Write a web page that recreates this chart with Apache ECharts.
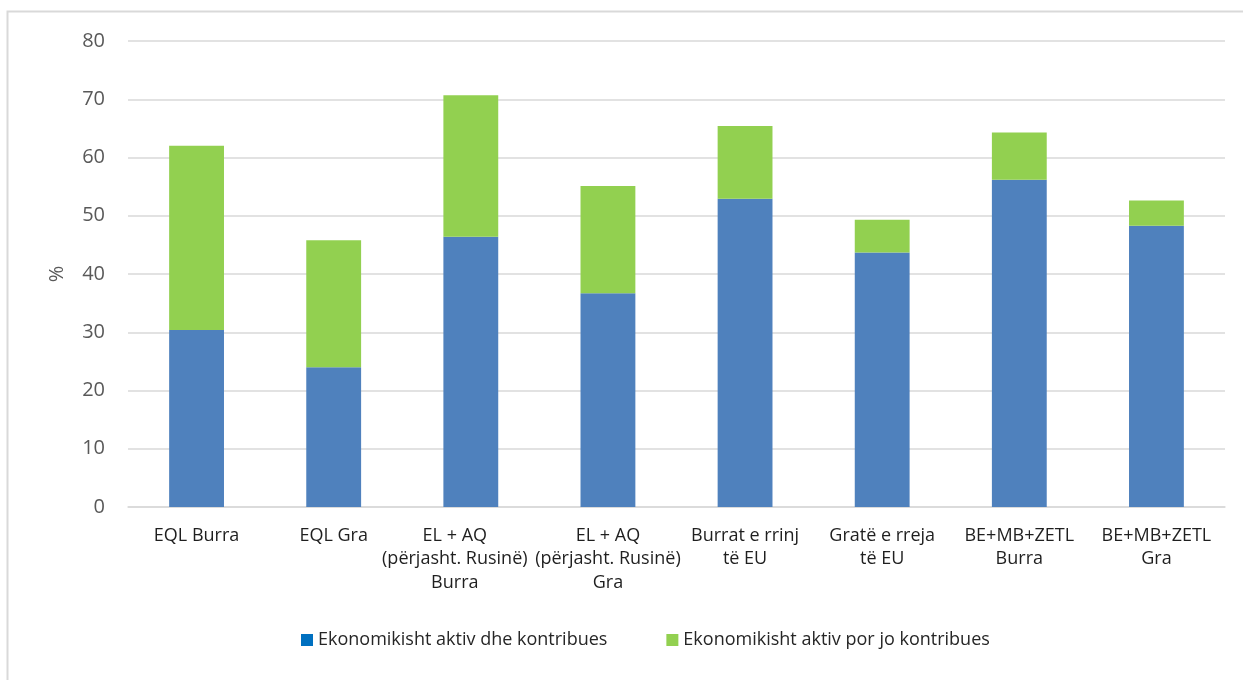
<!DOCTYPE html>
<html>
<head>
<meta charset="utf-8">
<script src="https://cdn.jsdelivr.net/npm/echarts@6/dist/echarts.min.js"></script>
<style>
html,body{margin:0;padding:0;background:#fff;}
#chart{width:1243px;height:680px;}
</style>
</head>
<body>
<div id="chart"></div>
<script>
const categories = [
  "EQL Burra",
  "EQL Gra",
  "EL + AQ\n(përjasht. Rusinë)\nBurra",
  "EL + AQ\n(përjasht. Rusinë)\nGra",
  "Burrat e rrinj\ntë EU",
  "Gratë e rreja\ntë EU",
  "BE+MB+ZETL\nBurra",
  "BE+MB+ZETL\nGra"
];
const seriesNames = ["Ekonomikisht aktiv dhe kontribues", "Ekonomikisht aktiv por jo kontribues"];
const contributing = [30.4, 24.0, 46.4, 36.7, 52.9, 43.7, 56.2, 48.3];
const nonContributing = [31.6, 21.8, 24.3, 18.4, 12.5, 5.6, 8.1, 4.3];
const yTicks = { min: 0, max: 80, interval: 10 };

const font = "'Open Sans', 'Noto Sans', sans-serif";
const categoryData = categories.map((c, i) => i === 2
  ? { value: c, textStyle: { padding: [0, 32, 0, 0] } }
  : c);

const chart = echarts.init(document.getElementById('chart'));
chart.setOption({
  animation: false,
  textStyle: { fontFamily: font },
  graphic: [{
    type: 'rect',
    z: -10,
    shape: { x: 7.5, y: 11.5, width: 1400, height: 900 },
    style: { fill: 'none', stroke: '#D9D9D9', lineWidth: 2 }
  }],
  grid: { left: 128, right: 18, top: 41, bottom: 173, containLabel: false },
  legend: {
    top: 626,
    left: 296,
    itemWidth: 12,
    itemHeight: 12,
    itemGap: 59,
    icon: 'rect',
    textStyle: { fontFamily: font, fontSize: 18, color: '#262626' },
    data: [
      { name: seriesNames[0], itemStyle: { color: '#0070C0' } },
      { name: seriesNames[1], itemStyle: { color: '#92D050' } }
    ]
  },
  xAxis: {
    type: 'category',
    data: categoryData,
    axisLine: { lineStyle: { color: '#D9D9D9', width: 1.5 } },
    axisTick: { show: false },
    axisLabel: {
      interval: 0,
      margin: 17,
      fontFamily: font,
      fontSize: 18,
      color: '#1f1f1f',
      lineHeight: 23.5
    }
  },
  yAxis: {
    type: 'value',
    min: yTicks.min,
    max: yTicks.max,
    interval: yTicks.interval,
    name: '%',
    nameLocation: 'middle',
    nameRotate: 90,
    nameGap: 61,
    nameTextStyle: { fontFamily: font, fontSize: 20, color: '#595959' },
    axisLine: { show: false },
    axisTick: { show: false },
    axisLabel: { fontFamily: font, fontSize: 20, color: '#595959', margin: 23 },
    splitLine: { lineStyle: { color: '#D9D9D9', width: 1.5 } }
  },
  series: [
    {
      name: seriesNames[0],
      type: 'bar',
      stack: 'total',
      barWidth: '40%',
      data: contributing,
      itemStyle: { color: '#4F81BD' }
    },
    {
      name: seriesNames[1],
      type: 'bar',
      stack: 'total',
      barWidth: '40%',
      data: nonContributing,
      itemStyle: { color: '#92D050' }
    }
  ]
});
</script>
</body>
</html>
